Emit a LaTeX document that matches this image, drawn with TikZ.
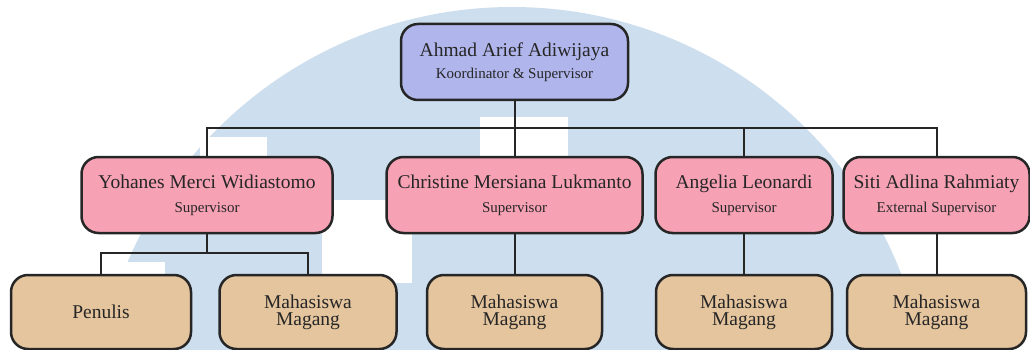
\documentclass[tikz,border=0pt]{standalone}
\usepackage{fontspec}
\setmainfont{Liberation Serif}
\usepackage{tikz}

\definecolor{headfill}{RGB}{176,182,236}
\definecolor{supfill}{RGB}{247,161,181}
\definecolor{studfill}{RGB}{229,197,158}
\definecolor{wmblue}{RGB}{205,222,238}
\newcommand{\namesize}{\fontsize{19.5}{17}\selectfont}
\newcommand{\rolesize}{\fontsize{15}{15}\selectfont}

\begin{document}
\begin{tikzpicture}[x=1pt,y=-1pt,
    box/.style={draw=black!85, line width=2.5pt, rounded corners=17pt, inner sep=0pt,
        align=center, text=black!85, font=\namesize, minimum height=76pt},
    head/.style={box, fill=headfill},
    sup/.style={box, fill=supfill},
    stud/.style={box, fill=studfill, minimum height=74pt},
    link/.style={draw=black!85, line width=2pt}]
    \useasboundingbox (0,0) rectangle (1030,350);

    % watermark in the background
    \begin{scope}
        \clip (0,0) rectangle (1030,350);
        \fill[wmblue] (512,424) circle [radius=417pt];
        \fill[white] (480,117) rectangle (568,160);
        \fill[white] (200,137) rectangle (267,160);
        \fill[white] (322,200) rectangle (412,283);
        \fill[white] (120,262) rectangle (165,276);
    \end{scope}

    \node[head, minimum width=227pt] (ahmad) at (514.5,62) {Ahmad Arief Adiwijaya\\[5pt]{\rolesize Koordinator \& Supervisor}};

    \node[sup, minimum width=251pt] (yohanes) at (207,195) {Yohanes Merci Widiastomo\\[7pt]{\rolesize Supervisor}};
    \node[sup, minimum width=256pt] (christine) at (514.5,195) {Christine Mersiana Lukmanto\\[7pt]{\rolesize Supervisor}};
    \node[sup, minimum width=177pt] (angelia) at (744,195) {Angelia Leonardi\\[7pt]{\rolesize Supervisor}};
    \node[sup, minimum width=186pt] (siti) at (936.5,195) {Siti Adlina Rahmiaty\\[7pt]{\rolesize External Supervisor}};

    \node[stud, minimum width=180pt] (penulis) at (101,312) {Penulis};
    \node[stud, minimum width=177pt] (magang a) at (308,312) {Mahasiswa\\Magang};
    \node[stud, minimum width=175pt] (magang b) at (514.5,312) {Mahasiswa\\Magang};
    \node[stud, minimum width=176pt] (magang c) at (744,312) {Mahasiswa\\Magang};
    \node[stud, minimum width=179pt] (magang d) at (936.5,312) {Mahasiswa\\Magang};

    \coordinate (bus) at (514.5,128);
    \coordinate (fork) at (207,253);

    \path[link] (ahmad.south) edge (christine.north);
    \path[link] (yohanes.north) edge[to path={|- (\tikztotarget)}] (bus);
    \path[link] (siti.north) edge[to path={|- (\tikztotarget)}] (bus);
    \path[link] (angelia.north) edge (angelia.north |- bus);
    \path[link] (yohanes.south) edge (fork);
    \path[link] (penulis.north) edge[to path={|- (\tikztotarget)}] (fork);
    \path[link] (magang a.north) edge[to path={|- (\tikztotarget)}] (fork);
    \path[link] (christine.south) edge (magang b.north);
    \path[link] (angelia.south) edge (magang c.north);
    \path[link] (siti.south) edge (magang d.north);
\end{tikzpicture}
\end{document}
